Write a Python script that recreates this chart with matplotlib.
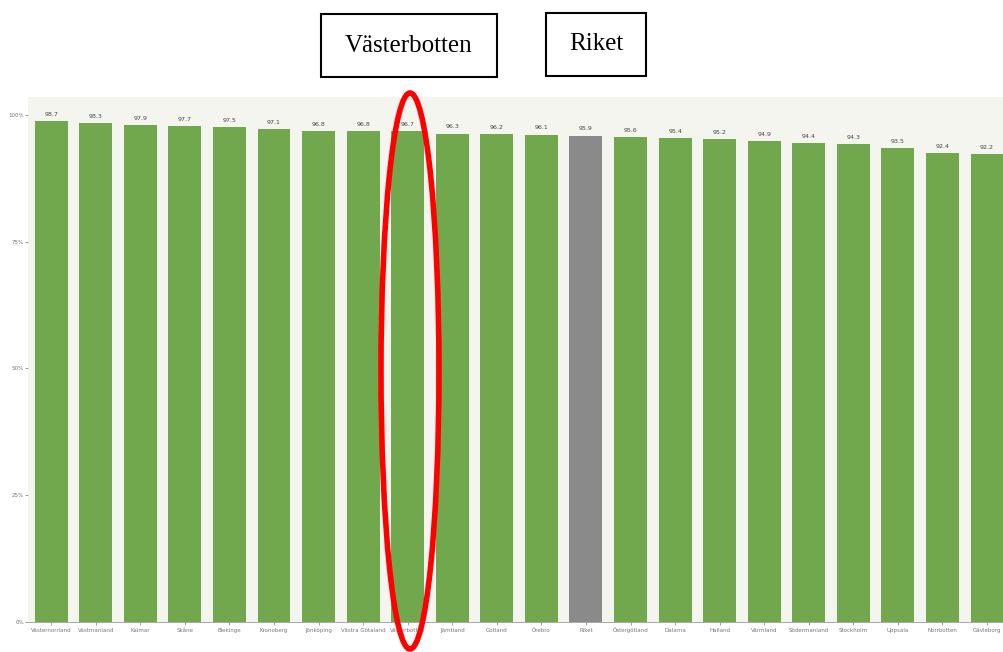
import matplotlib.pyplot as plt
from matplotlib.patches import Rectangle, Ellipse
from matplotlib.ticker import FuncFormatter

lan = ['Västernorrland', 'Västmanland', 'Kalmar', 'Skåne', 'Blekinge', 'Kronoberg',
       'Jönköping', 'Västra Götaland', 'Västerbotten', 'Jämtland', 'Gotland', 'Örebro',
       'Riket', 'Östergötland', 'Dalarna', 'Halland', 'Värmland', 'Södermanland',
       'Stockholm', 'Uppsala', 'Norrbotten', 'Gävleborg']
andel = [98.7, 98.3, 97.9, 97.7, 97.5, 97.1, 96.8, 96.8, 96.7, 96.3, 96.2, 96.1,
         95.9, 95.6, 95.4, 95.2, 94.9, 94.4, 94.3, 93.5, 92.4, 92.2]
y_ticks = [0, 25, 50, 75, 100]

gron = '#72a84d'
gra = '#8a8a8a'
farger = [gra if n == 'Riket' else gron for n in lan]

fig = plt.figure(figsize=(10.04, 6.52), dpi=100)
ax = fig.add_axes([28 / 1004, 30 / 652, 1 - 28 / 1004, 525 / 652])
ax.set_facecolor('#f5f5ef')

x = range(len(lan))
ax.bar(x, andel, width=0.74, color=farger, zorder=2)
for xi, v in zip(x, andel):
    ax.text(xi, v + 0.8, f'{v:.1f}', ha='center', va='bottom', fontsize=4.5,
            color='#444444')

ax.set_xlim(-0.52, 21.38)
ax.set_ylim(0, 103.5)
ax.set_yticks(y_ticks)
ax.yaxis.set_major_formatter(FuncFormatter(lambda v, p: f'{v:.0f}%'))
ax.set_xticks(list(x))
ax.set_xticklabels(lan, fontsize=4, color='#777777')
ax.tick_params(axis='y', labelsize=4, colors='#777777', length=2, width=0.5, pad=1)
ax.tick_params(axis='x', length=2, width=0.5, pad=2, colors='#777777')
for s in ax.spines.values():
    s.set_visible(False)
ax.spines['bottom'].set_visible(True)
ax.spines['bottom'].set_color('#999999')
ax.spines['bottom'].set_linewidth(0.6)

# rubrikrutor ovanför diagrammet
def ruta(x0, y0, w, h, txt):
    fig.add_artist(Rectangle((x0 / 1004, 1 - (y0 + h) / 652), w / 1004, h / 652,
                             transform=fig.transFigure, fill=False,
                             edgecolor='black', linewidth=1.5))
    fig.text((x0 + w / 2) / 1004, 1 - (y0 + h / 2) / 652, txt, ha='center',
             va='center', fontsize=18, family='Liberation Serif')

ruta(321, 14, 176, 63, 'Västerbotten')
ruta(546, 13, 100, 63, 'Riket')

# markering av Västerbotten
fig.add_artist(Ellipse((410 / 1004, 1 - 371 / 652), 58 / 1004, 556 / 652,
                       transform=fig.transFigure, fill=False,
                       edgecolor='#ff0000', linewidth=4, zorder=5))

fig.savefig('out.png', dpi=100)
